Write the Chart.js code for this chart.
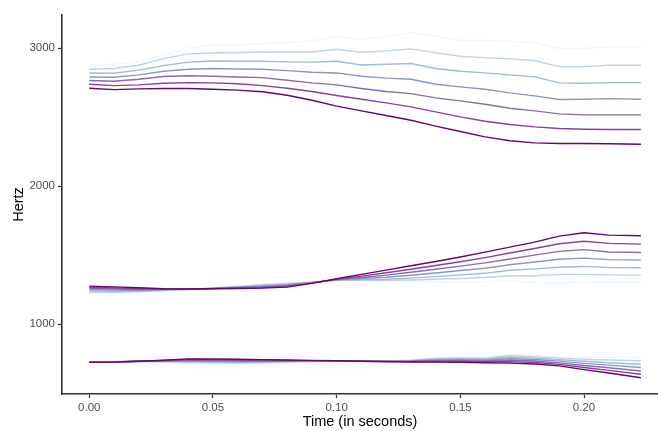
<!DOCTYPE html>
<html>
<head>
<meta charset="utf-8">
<script src="https://cdn.jsdelivr.net/npm/chart.js@4"></script>
<style>
  html, body { margin: 0; padding: 0; background: #fff; }
  #wrap { width: 658px; height: 431px; }
</style>
</head>
<body>
<div id="wrap"><canvas id="FormantChart"></canvas></div>
<script>
// time points (seconds)
const Times = [0, 0.01, 0.02, 0.03, 0.04, 0.05, 0.06, 0.07, 0.08, 0.09, 0.10,
  0.11, 0.12, 0.13, 0.14, 0.15, 0.16, 0.17, 0.18, 0.19, 0.20, 0.21, 0.223];

// tick labels
const XTicks = [0, 0.05, 0.10, 0.15, 0.20];
const YTicks = [1000, 2000, 3000];

// shades, lightest -> darkest
const Shades = ['#edf8fb', '#bfd3e6', '#9ebcda', '#8c96c6', '#8c6bb1', '#88419d', '#6e016b'];

// F1 tracks, one row per shade
const F1 = [
  [727, 728, 730, 725, 718, 714, 712, 716, 722, 727, 730, 731, 732, 740, 756, 762, 760, 780, 775, 764, 760, 758, 758],
  [726, 727, 730, 727, 723, 720, 718, 720, 725, 729, 731, 731, 731, 738, 751, 755, 753, 770, 764, 753, 745, 739, 734],
  [725, 727, 730, 729, 728, 725, 723, 725, 728, 730, 731, 731, 731, 735, 745, 749, 747, 759, 753, 742, 730, 720, 709],
  [725, 726, 730, 731, 733, 731, 729, 729, 731, 732, 732, 731, 730, 733, 740, 742, 740, 749, 743, 731, 715, 702, 685],
  [724, 725, 730, 734, 738, 736, 734, 733, 734, 734, 733, 731, 729, 730, 735, 735, 733, 738, 732, 719, 700, 683, 660],
  [723, 725, 730, 736, 743, 742, 740, 738, 737, 735, 733, 731, 729, 728, 729, 729, 727, 728, 721, 708, 685, 664, 636],
  [722, 724, 730, 738, 748, 747, 745, 742, 740, 737, 734, 731, 728, 725, 724, 722, 720, 717, 710, 697, 670, 645, 611]
];

// F2 tracks
const F2 = [
  [1225, 1224, 1228, 1240, 1250, 1262, 1275, 1290, 1300, 1305, 1315, 1318, 1312, 1308, 1306, 1305, 1308, 1312, 1302, 1300, 1304, 1305, 1304],
  [1233, 1231, 1234, 1243, 1251, 1261, 1272, 1285, 1295, 1304, 1317, 1318, 1318, 1320, 1325, 1330, 1338, 1350, 1350, 1360, 1360, 1357, 1355],
  [1241, 1238, 1240, 1247, 1252, 1260, 1269, 1280, 1289, 1302, 1319, 1322, 1325, 1333, 1344, 1357, 1368, 1390, 1400, 1412, 1418, 1410, 1408],
  [1250, 1246, 1245, 1250, 1252, 1259, 1267, 1275, 1283, 1301, 1321, 1330, 1340, 1354, 1370, 1388, 1405, 1430, 1450, 1470, 1478, 1467, 1464],
  [1258, 1254, 1251, 1252, 1253, 1258, 1264, 1270, 1278, 1299, 1323, 1338, 1355, 1376, 1398, 1420, 1444, 1472, 1500, 1527, 1540, 1523, 1519],
  [1267, 1262, 1257, 1254, 1253, 1257, 1261, 1265, 1273, 1297, 1326, 1348, 1372, 1398, 1425, 1452, 1482, 1515, 1548, 1582, 1600, 1585, 1580],
  [1275, 1270, 1263, 1256, 1254, 1256, 1258, 1261, 1268, 1295, 1329, 1360, 1391, 1423, 1454, 1486, 1522, 1558, 1594, 1638, 1662, 1645, 1640]
];

// F3 tracks
const F3 = [
  [2877, 2884, 2901, 2949, 3002, 3022, 3024, 3034, 3041, 3053, 3087, 3065, 3082, 3114, 3087, 3058, 3056, 3051, 3041, 2998, 2998, 3010, 3010],
  [2848, 2853, 2877, 2925, 2959, 2966, 2969, 2971, 2973, 2973, 2993, 2971, 2981, 2995, 2966, 2942, 2932, 2923, 2911, 2867, 2867, 2877, 2877],
  [2821, 2819, 2841, 2874, 2899, 2908, 2906, 2906, 2901, 2899, 2906, 2879, 2884, 2889, 2853, 2833, 2821, 2807, 2792, 2749, 2746, 2751, 2751],
  [2792, 2790, 2807, 2833, 2848, 2853, 2850, 2848, 2838, 2826, 2821, 2797, 2783, 2775, 2739, 2720, 2703, 2676, 2655, 2628, 2630, 2635, 2630],
  [2766, 2761, 2775, 2795, 2800, 2797, 2792, 2787, 2768, 2749, 2734, 2708, 2686, 2671, 2640, 2618, 2594, 2565, 2546, 2524, 2517, 2517, 2517],
  [2739, 2729, 2734, 2746, 2751, 2749, 2742, 2729, 2710, 2686, 2657, 2630, 2604, 2575, 2539, 2502, 2471, 2447, 2430, 2418, 2413, 2411, 2411],
  [2710, 2700, 2705, 2708, 2708, 2703, 2696, 2684, 2659, 2623, 2580, 2546, 2512, 2478, 2435, 2396, 2357, 2329, 2314, 2309, 2309, 2307, 2304]
];

const Formants = [F1, F2, F3];

// build datasets, darkest drawn on top
const Datasets = [];
Formants.forEach((F, fi) => {
  F.forEach((row, si) => {
    Datasets.push({
      label: 'F' + (fi + 1) + '-' + si,
      data: row.map((v, i) => ({ x: Times[i], y: v })),
      borderColor: Shades[si],
      borderWidth: 1.4,
      pointRadius: 0,
      fill: false,
      tension: 0,
      order: 10 - si
    });
  });
});

const axisColor = '#333333';
const tickFont = { family: 'Liberation Sans, Arial, sans-serif', size: 11.5 };
const titleFont = { family: 'Liberation Sans, Arial, sans-serif', size: 14.5 };

//config
const FormantConfig = {
  type: 'line',
  data: { datasets: Datasets },
  options: {
    responsive: true,
    maintainAspectRatio: false,
    animation: false,
    layout: { padding: { top: 15, right: 0, left: 0, bottom: 0 } },
    plugins: { legend: { display: false }, tooltip: { enabled: false } },
    scales: {
      x: {
        type: 'linear',
        min: -0.01103,
        max: 0.2299,
        afterBuildTicks: s => { s.ticks = XTicks.map(v => ({ value: v })); },
        afterFit: s => { s.height = 37; },
        ticks: {
          color: '#4d4d4d', font: tickFont, padding: 3, maxRotation: 0,
          callback: v => v.toFixed(2)
        },
        grid: { display: true, drawOnChartArea: false, drawTicks: true, tickLength: 4, color: axisColor, tickWidth: 1.2 },
        border: { display: true, color: axisColor, width: 1.6 },
        title: { display: true, text: 'Time (in seconds)', color: '#000', font: titleFont, padding: { top: 0, bottom: 0 } }
      },
      y: {
        type: 'linear',
        min: 493,
        max: 3241,
        afterBuildTicks: s => { s.ticks = YTicks.map(v => ({ value: v })); },
        afterFit: s => { s.width = 62; },
        ticks: { color: '#4d4d4d', font: tickFont, padding: 3, callback: v => String(v) },
        grid: { display: true, drawOnChartArea: false, drawTicks: true, tickLength: 4, color: axisColor, tickWidth: 1.2 },
        border: { display: true, color: axisColor, width: 1.6 },
        title: { display: true, text: 'Hertz', color: '#000', font: titleFont, padding: { top: 10, bottom: 0 } }
      }
    }
  }
};

//View
const FormantChart = new Chart(
  document.getElementById('FormantChart'),
  FormantConfig
);
</script>
</body>
</html>
